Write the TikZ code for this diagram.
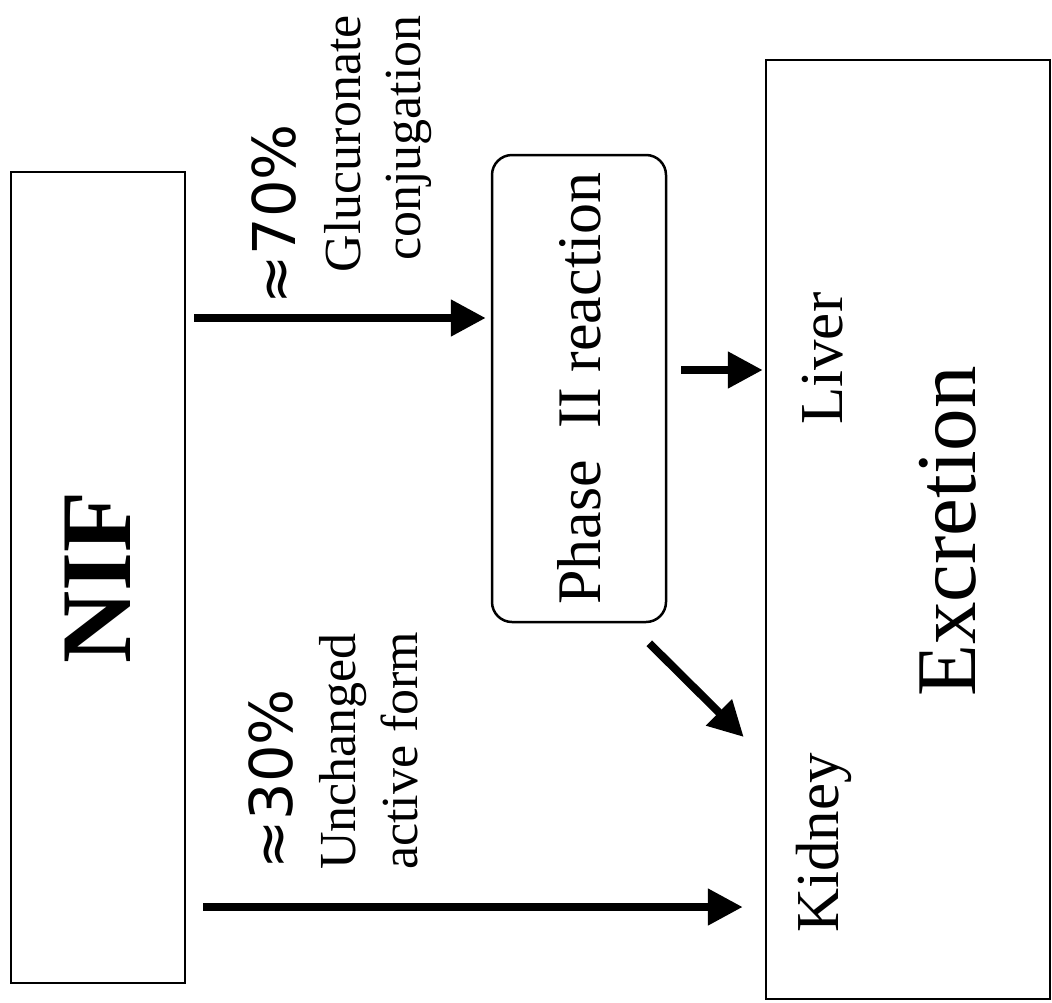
\documentclass[tikz,border=0pt]{standalone}
\usepackage{fontspec}
\setmainfont{Liberation Serif}
\newfontfamily\pctfont{DejaVu Sans}
\usetikzlibrary{arrows.meta}

\begin{document}
\begin{tikzpicture}[x=1pt, y=-1pt,
    main box/.style={draw, line width=2.5pt, inner sep=0pt},
    text node/.style={rotate=90, inner sep=0pt},
    flow arrow/.style={line width=8pt, -{Triangle[length=35pt,width=35pt]}}]
  \useasboundingbox (0,0) rectangle (1052,1002);

  \node[main box, minimum width=174pt, minimum height=811pt] (nif) at (98,577.5)
    {\rotatebox{90}{\fontsize{100}{110}\selectfont\bfseries NIF}};
  \node[main box, rounded corners=20pt, minimum width=174pt, minimum height=467pt] (phase) at (579,388.5)
    {\rotatebox{90}{\fontsize{62}{70}\selectfont Phase\ \ II reaction}};
  \node[main box, minimum width=284pt, minimum height=939pt] (exc) at (908,529.5) {};

  \node[text node, anchor=base west] (liver) at (842,425) {\fontsize{61}{70}\selectfont Liver};
  \node[text node, anchor=base west] (kidney) at (838,933) {\fontsize{61}{70}\selectfont Kidney};
  \node[text node, anchor=base west] (excret) at (975,697) {\fontsize{85}{95}\selectfont Excretion};

  \node[text node, anchor=base west] (pct70) at (295,305) {\pctfont\fontsize{59}{66}\selectfont ≈70\%};
  \node[text node, anchor=north east, align=right, font=\fontsize{52}{60}\selectfont] (gluc) at (324.5,15)
    {Glucuronate\\conjugation};
  \node[text node, anchor=base west] (pct30) at (292,870) {\pctfont\fontsize{59}{66}\selectfont ≈30\%};
  \node[text node, anchor=north west, align=left, font=\fontsize{52}{62}\selectfont] (unch) at (319.5,870)
    {Unchanged\\active form};

  \coordinate (row70) at (0,318);
  \coordinate (rowliv) at (0,370);
  \coordinate (row30) at (0,907);
  \draw[flow arrow, shorten <=8pt, shorten >=5pt] (nif.east |- row70) -- (phase.west |- row70);
  \draw[flow arrow, shorten <=14pt, shorten >=2pt] (phase.east |- rowliv) -- (exc.west |- rowliv);
  \draw[flow arrow] ([shift={(-18pt,-20pt)}]phase.south east) -- ([shift={(-21pt,-207.5pt)}]exc.west);
  \draw[flow arrow, shorten <=17pt, shorten >=22pt] (nif.east |- row30) -- (exc.west |- row30);
\end{tikzpicture}
\end{document}
